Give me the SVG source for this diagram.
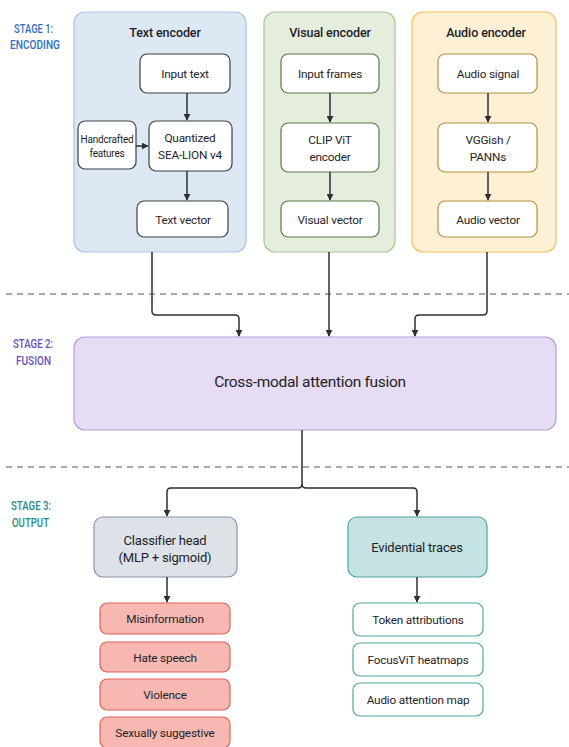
<svg xmlns="http://www.w3.org/2000/svg" width="569" height="747" viewBox="0 0 569 747">
<defs>
<marker id="arr" viewBox="0 0 10 10" refX="9" refY="5" markerWidth="7" markerHeight="7" markerUnits="userSpaceOnUse" orient="auto">
<path d="M0,0 L10,5 L0,10 z" fill="#2b2f36"/>
</marker>
<style>
text{font-family:Roboto,"Liberation Sans",sans-serif;fill:#1f2328;text-anchor:middle;dominant-baseline:central}
.stage{font-size:13px;font-weight:500;text-anchor:start}
.title{font-size:12.5px;font-weight:500;letter-spacing:-0.1px}
.n{font-size:11.8px;letter-spacing:-0.2px}
.sm{font-size:10px;letter-spacing:-0.2px}
.box{fill:#fff;stroke-width:1.2}
.conn{fill:none;stroke:#2b2f36;stroke-width:1.5}
.dash{stroke:#8a8d92;stroke-width:1.5;stroke-dasharray:6 5}
</style>
</defs>
<rect width="569" height="747" fill="#fff"/>
<line class="dash" x1="6" y1="294" x2="569" y2="294"/>
<line class="dash" x1="6" y1="467" x2="569" y2="467"/>
<g id="stage1"><text class="stage" x="14" y="28" textLength="39" lengthAdjust="spacingAndGlyphs" style="fill:#2f6fc0">STAGE 1:</text><text class="stage" x="10" y="44" textLength="50" lengthAdjust="spacingAndGlyphs" style="fill:#2f6fc0">ENCODING</text></g>
<g id="stage2"><text class="stage" x="13" y="343" textLength="40" lengthAdjust="spacingAndGlyphs" style="fill:#6a4fc0">STAGE 2:</text><text class="stage" x="16" y="360" textLength="35" lengthAdjust="spacingAndGlyphs" style="fill:#6a4fc0">FUSION</text></g>
<g id="stage3"><text class="stage" x="11" y="505" textLength="40" lengthAdjust="spacingAndGlyphs" style="fill:#2a8a88">STAGE 3:</text><text class="stage" x="12" y="522" textLength="37" lengthAdjust="spacingAndGlyphs" style="fill:#2a8a88">OUTPUT</text></g>

<g id="text-encoder">
<rect x="74" y="12" width="172" height="240" rx="11" fill="#dde8f5" stroke="#a9c4e6" stroke-width="1.2"/>
<text class="title" x="165" y="32">Text encoder</text>
</g>
<g id="input-text"><rect class="box" x="140" y="54" width="90" height="39" rx="7" stroke="#3a3f46"/><text class="n" x="185" y="74">Input text</text></g>
<g id="handcrafted"><rect class="box" x="78" y="121" width="58" height="48" rx="7" stroke="#3a3f46"/><text class="sm" x="107" y="139">Handcrafted</text><text class="sm" x="107" y="153">features</text></g>
<g id="sea-lion"><rect class="box" x="149" y="121" width="83" height="50" rx="7" stroke="#3a3f46"/><text class="n" x="190" y="138">Quantized</text><text class="n" x="190" y="155">SEA-LION v4</text></g>
<g id="text-vector"><rect class="box" x="137" y="201" width="91" height="36" rx="7" stroke="#3a3f46"/><text class="n" x="183" y="220">Text vector</text></g>

<g id="visual-encoder">
<rect x="264" y="12" width="131" height="240" rx="11" fill="#e5eddd" stroke="#a9c79a" stroke-width="1.2"/>
<text class="title" x="330" y="32">Visual encoder</text>
</g>
<g id="input-frames"><rect class="box" x="281" y="54" width="98" height="39" rx="7" stroke="#5a7a4a"/><text class="n" x="330" y="74">Input frames</text></g>
<g id="clip-vit"><rect class="box" x="281" y="123" width="98" height="49" rx="7" stroke="#5a7a4a"/><text class="n" x="330" y="140">CLIP ViT</text><text class="n" x="330" y="157">encoder</text></g>
<g id="visual-vector"><rect class="box" x="281" y="201" width="98" height="36" rx="7" stroke="#5a7a4a"/><text class="n" x="330" y="220">Visual vector</text></g>

<g id="audio-encoder">
<rect x="412" y="12" width="144" height="240" rx="11" fill="#fdf0d4" stroke="#f0c060" stroke-width="1.2"/>
<text class="title" x="486" y="32">Audio encoder</text>
</g>
<g id="audio-signal"><rect class="box" x="438" y="54" width="99" height="39" rx="7" stroke="#b89040"/><text class="n" x="488" y="74">Audio signal</text></g>
<g id="vggish"><rect class="box" x="438" y="123" width="99" height="49" rx="7" stroke="#b89040"/><text class="n" x="488" y="140">VGGish /</text><text class="n" x="488" y="157">PANNs</text></g>
<g id="audio-vector"><rect class="box" x="438" y="201" width="99" height="36" rx="7" stroke="#b89040"/><text class="n" x="488" y="220">Audio vector</text></g>

<g id="fusion"><rect x="74" y="337" width="482" height="93" rx="11" fill="#e6dcf3" stroke="#b59ddb" stroke-width="1.2"/><text x="310" y="382" style="font-size:15.5px;letter-spacing:-0.3px">Cross-modal attention fusion</text></g>

<g id="classifier"><rect x="94" y="517" width="143" height="60" rx="9" fill="#dde1e8" stroke="#8a93a3" stroke-width="1.2"/><text x="165" y="540" style="font-size:13px;letter-spacing:-0.2px">Classifier head</text><text x="165" y="557" style="font-size:13px;letter-spacing:-0.2px">(MLP + sigmoid)</text></g>
<g id="misinformation"><rect x="100" y="603" width="130" height="31" rx="7" fill="#f6b8b1" stroke="#e0605a" stroke-width="1.2"/><text class="n" x="165" y="619">Misinformation</text></g>
<g id="hate-speech"><rect x="100" y="642" width="130" height="30" rx="7" fill="#f6b8b1" stroke="#e0605a" stroke-width="1.2"/><text class="n" x="165" y="658">Hate speech</text></g>
<g id="violence"><rect x="100" y="679" width="130" height="31" rx="7" fill="#f6b8b1" stroke="#e0605a" stroke-width="1.2"/><text class="n" x="165" y="695">Violence</text></g>
<g id="sexually-suggestive"><rect x="100" y="717" width="130" height="31" rx="7" fill="#f6b8b1" stroke="#e0605a" stroke-width="1.2"/><text class="n" x="165" y="733">Sexually suggestive</text></g>

<g id="evidential"><rect x="348" y="517" width="139" height="60" rx="9" fill="#c5e3e3" stroke="#4fa5a3" stroke-width="1.2"/><text x="417" y="547" style="font-size:13px;letter-spacing:-0.2px">Evidential traces</text></g>
<g id="token-attr"><rect class="box" x="353" y="603" width="130" height="33" rx="7" stroke="#4fa5a3"/><text class="n" x="418" y="620">Token attributions</text></g>
<g id="focusvit"><rect class="box" x="353" y="643" width="130" height="33" rx="7" stroke="#4fa5a3"/><text class="n" x="418" y="660">FocusViT heatmaps</text></g>
<g id="audio-attn"><rect class="box" x="353" y="683" width="130" height="33" rx="7" stroke="#4fa5a3"/><text class="n" x="418" y="700">Audio attention map</text></g>

<g id="connectors">
<path class="conn" d="M187,93 V120" marker-end="url(#arr)"/>
<path class="conn" d="M136,146 H148" marker-end="url(#arr)"/>
<path class="conn" d="M187,171 V200" marker-end="url(#arr)"/>
<path class="conn" d="M330,93 V122" marker-end="url(#arr)"/>
<path class="conn" d="M330,172 V200" marker-end="url(#arr)"/>
<path class="conn" d="M488,93 V122" marker-end="url(#arr)"/>
<path class="conn" d="M488,172 V200" marker-end="url(#arr)"/>
<path class="conn" d="M152,252 V311 Q152,315 156,315 H235 Q239,315 239,319 V336" marker-end="url(#arr)"/>
<path class="conn" d="M329,252 V336" marker-end="url(#arr)"/>
<path class="conn" d="M487,252 V311 Q487,315 483,315 H419 Q415,315 415,319 V336" marker-end="url(#arr)"/>
<path class="conn" d="M302,430 V484 Q302,488 298,488 H171 Q167,488 167,492 V516" marker-end="url(#arr)"/>
<path class="conn" d="M302,484 Q302,488 306,488 H413 Q417,488 417,492 V516" marker-end="url(#arr)"/>
<path class="conn" d="M167,577 V602" marker-end="url(#arr)"/>
<path class="conn" d="M417,577 V602" marker-end="url(#arr)"/>
</g>
</svg>
